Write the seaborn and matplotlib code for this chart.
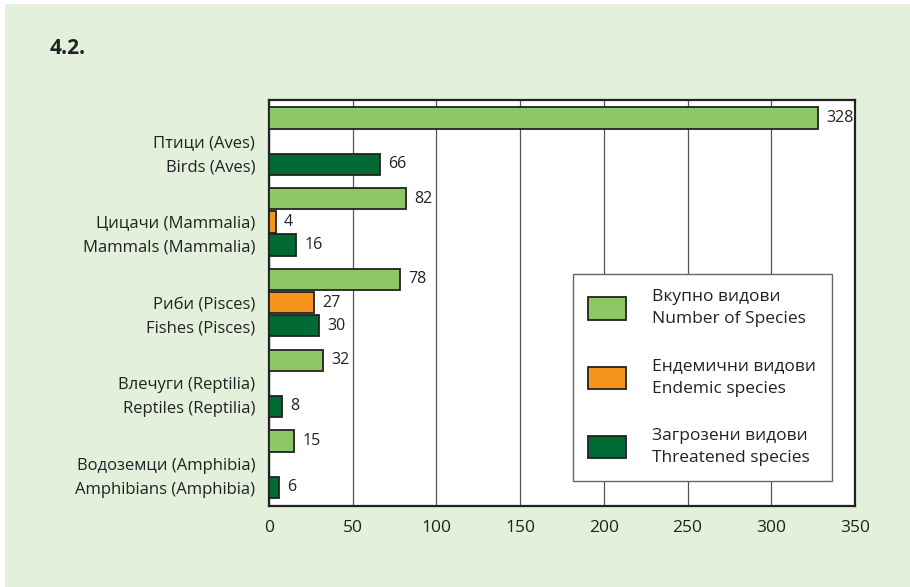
import numpy as np
import pandas as pd
import matplotlib
matplotlib.use("Agg")
import matplotlib.pyplot as plt
import matplotlib.patches as mpatches
import seaborn as sns

groups = ["Птици (Aves)\nBirds (Aves)",
          "Цицачи (Mammalia)\nMammals (Mammalia)",
          "Риби (Pisces)\nFishes (Pisces)",
          "Влечуги (Reptilia)\nReptiles (Reptilia)",
          "Водоземци (Amphibia)\nAmphibians (Amphibia)"]
series = ["Вкупно видови\nNumber of Species",
          "Ендемични видови\nEndemic species",
          "Загрозени видови\nThreatened species"]
total = [328, 82, 78, 32, 15]
endemic = [None, 4, 27, None, None]
threatened = [66, 16, 30, 8, 6]
xticks = [0, 50, 100, 150, 200, 250, 300, 350]

colors = ["#8cc866", "#f7941d", "#006a32"]
bg = "#e3f0dc"

rows = []
for i, g in enumerate(groups):
    for s, vals in zip(series, [total, endemic, threatened]):
        if vals[i] is not None:
            rows.append({"group": g, "series": s, "value": vals[i]})
df = pd.DataFrame(rows)

sns.set_theme(style="white")
plt.rcParams['font.family'] = ['Open Sans', 'DejaVu Sans']

fig = plt.figure(figsize=(9.1, 5.87), dpi=100)
fig.patch.set_facecolor("white")
fig.patches.append(mpatches.Rectangle((5 / 910, 0), 1, 1 - 4 / 587,
                                      transform=fig.transFigure,
                                      facecolor=bg, edgecolor="none", zorder=-10))
ax = fig.add_axes([269 / 910, 1 - 506 / 587, 586 / 910, 406 / 587])
ax.set_facecolor("white")

sns.barplot(data=df, y="group", x="value", hue="series",
            order=groups, hue_order=series, palette=colors, saturation=1,
            orient="h", width=0.86, gap=0.08, dodge=True,
            edgecolor="#222222", linewidth=1.3, ax=ax, zorder=3)

for c in ax.containers:
    ax.bar_label(c, padding=6, fontsize=11.5, color="#222222")

ax.set_xlim(0, 350)
ax.set_ylim(4.52, -0.51)
ax.set_xticks(xticks)
ax.set_xticklabels([str(t) for t in xticks], fontsize=12.5, color="#222222")
ax.set_yticks(np.arange(len(groups)) + 0.1)
ax.set_yticklabels(groups, fontsize=12, color="#222222", linespacing=1.65)
ax.tick_params(axis="both", length=0)
ax.tick_params(axis="x", pad=10)
ax.tick_params(axis="y", pad=10)
ax.set_xlabel("")
ax.set_ylabel("")
ax.xaxis.grid(True, color="#555555", linewidth=0.9, zorder=0)
ax.set_axisbelow(True)
for sp in ax.spines.values():
    sp.set_visible(True)
    sp.set_color("#222222")
    sp.set_linewidth(1.6)

handles = [mpatches.Patch(facecolor=c, edgecolor="#222222", linewidth=1.3) for c in colors]
leg = ax.legend(handles, series, loc="center",
                bbox_to_anchor=(0.519, 0.047, 0.442, 0.539),
                bbox_transform=ax.transAxes, mode="expand",
                fontsize=12.5, frameon=True, fancybox=False,
                handlelength=2.2, handleheight=1.6, handletextpad=1.5,
                labelspacing=1.8, borderpad=0.85, borderaxespad=0)
leg.get_frame().set_edgecolor("#666666")
leg.get_frame().set_linewidth(1.0)
leg.get_frame().set_facecolor("white")
leg.get_frame().set_alpha(1)
for t in leg.get_texts():
    t.set_linespacing(1.5)
    t.set_color("#222222")

fig.text(50 / 910, 1 - 48 / 587, "4.2.", fontsize=15, fontweight="bold",
         color="#222222", va="center", ha="left")

fig.savefig("out.png", dpi=100, facecolor=fig.get_facecolor())
